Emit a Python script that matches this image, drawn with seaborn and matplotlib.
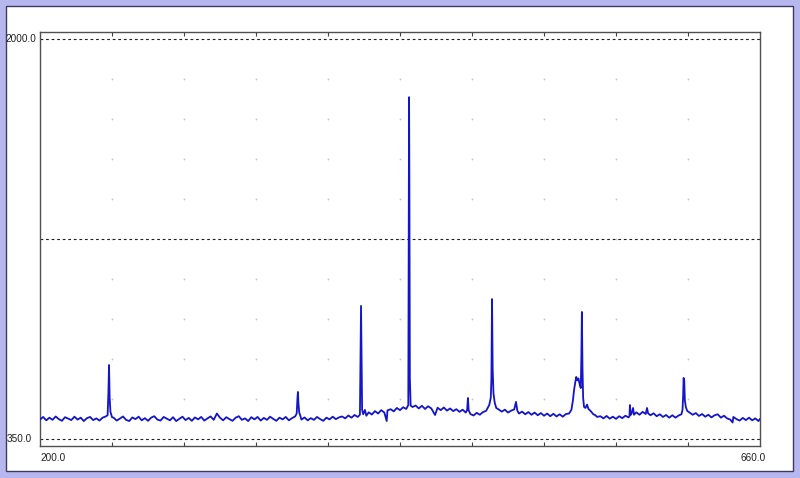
import numpy as np
import pandas as pd
import matplotlib
matplotlib.use("Agg")
import matplotlib.pyplot as plt
import seaborn as sns
from matplotlib.patches import Rectangle

# spectrum points (wavelength, intensity)
wavelength = [
    200, 202, 204, 206, 208, 210, 212, 214, 216, 218, 220, 222, 224, 226, 228, 230, 232, 234, 236, 238, 240, 242,
    243.2, 243.7, 244.1, 244.5, 245.0, 246,
    247, 249, 251, 253, 255, 257, 259, 261, 263, 265, 267, 269, 271, 273, 275, 277, 279, 281, 283, 285, 287, 289,
    291, 293, 295, 297, 299, 301, 303, 305, 307, 309, 311, 313, 315, 317, 319, 321, 323, 325, 327, 329, 331, 333,
    335, 337, 339, 341, 343, 345, 347, 349, 351, 353, 355, 357, 359, 361, 363,
    364.0, 364.5, 364.8, 365.1, 365.6, 366.5,
    367, 369, 371, 373, 375, 377, 379, 381, 383, 385, 387, 389, 391, 393, 395, 397, 399, 401, 403,
    404.4, 404.8, 405.1, 405.4, 405.8, 406.5,
    407.6, 408.5, 410, 412, 414, 416, 418, 420, 421.5, 422, 424, 426, 428, 430, 432, 434,
    435.3, 435.6, 435.8, 436.0, 436.3, 436.8,
    438, 440, 442, 444, 446, 448, 450, 452.4, 454, 456, 458, 460, 462, 464, 466, 468, 470, 472,
    472.9, 473.4, 473.9,
    475, 477, 479, 481, 483, 485, 487,
    488.0, 488.4, 488.8, 489.2, 489.7, 490.5, 491.5,
    493, 495, 497, 499, 501, 503, 504.1, 505, 506, 508, 510, 512, 514, 516, 518, 520, 522, 524, 526, 528, 530,
    532, 534, 536, 538, 539.5,
    540.5, 541.2, 542, 542.6, 543.3, 544, 544.8, 545.5, 545.9, 546.2, 546.6, 547.0, 547.6, 548.5, 549.5, 550.4,
    551.4, 552.5, 553.5, 554.6, 556, 558, 560, 562, 564, 566, 568, 570, 572, 574, 576,
    576.6, 576.9, 577.3, 578, 578.9, 579.5, 581, 583, 585, 587, 587.8, 588.5, 590, 592, 594, 596, 598, 600, 602,
    604, 606, 608, 609.8, 610.5,
    610.9, 611.2, 611.6, 612.0, 612.6, 613.5, 615, 617, 619, 621, 623, 625, 627, 629, 631, 633, 635, 637, 639,
    641, 642.5, 643, 645, 647, 649, 651, 653, 655, 657, 659, 660,
]
intensity = [
    430, 441, 427, 438, 429, 443, 432, 425, 440, 434, 428, 442, 430, 438, 424, 436, 441, 428, 435, 426, 438, 443,
    448, 540, 655, 520, 462, 440,
    438, 426, 434, 443, 429, 424, 439, 432, 442, 427, 436, 425, 438, 444, 430, 426, 441, 434, 427, 440, 424, 433,
    442, 428, 437, 425, 439, 431, 441, 426, 435, 443, 429, 455, 438, 427, 440, 432, 425, 438, 444, 429, 435, 424,
    440, 431, 441, 426, 437, 429, 442, 433, 425, 438, 431, 441, 427, 436, 443,
    455, 520, 544, 500, 460, 442,
    430, 439, 427, 436, 429, 441, 432, 425, 438, 431, 442, 432, 439, 443, 435, 447, 438, 449, 441,
    450, 700, 899, 720, 470, 452,
    470, 446, 460, 451, 465, 455, 469, 459, 424, 468, 473, 464, 478, 469, 481, 474,
    490, 1200, 1760, 1400, 600, 488,
    482, 488, 476, 487, 474, 485, 476, 449, 479, 469, 480, 467, 476, 465, 473, 462, 471, 459,
    470, 519, 468,
    453, 447, 458, 450, 461, 466, 490,
    520, 600, 927, 640, 540, 500, 478,
    472, 463, 471, 459, 467, 472, 503, 466, 455, 463, 452, 461, 450, 459, 448, 457, 446, 455, 444, 454, 443,
    452, 442, 453, 455, 470,
    510, 552, 585, 606, 592, 600, 575, 560, 700, 874, 640, 520, 482, 478, 492, 474,
    468, 460, 452, 449, 441, 444, 435, 445, 434, 442, 433, 444, 436, 446, 439,
    444, 490, 449, 456, 478, 450, 460, 450, 462, 453, 478, 456, 448, 456, 444, 452, 441, 449, 438,
    448, 438, 447, 452, 470,
    530, 602, 590, 510, 482, 466, 459, 450, 457, 445, 453, 442, 450, 439, 448, 452, 438, 446, 435,
    430, 418, 441, 432, 426, 437, 428, 438, 427, 435, 424, 433,
]

x_labels = ["200.0", "660.0"]
y_labels = ["2000.0", "350.0"]
x_min, x_max = 200, 660
y_min, y_max = 350, 2000

df = pd.DataFrame({"wavelength": wavelength, "intensity": intensity})

sns.set_style("white")
plt.rcParams["font.family"] = ["Liberation Sans", "DejaVu Sans"]

fig = plt.figure(figsize=(8, 4.78), dpi=100)
fig.patch.set_facecolor("#b7b7f0")

# white panel with its dark frame, kept behind the axes
panel = Rectangle((6 / 800, 7 / 478), 787 / 800, 465 / 478, transform=fig.transFigure,
                  facecolor="white", edgecolor="#3c3c5a", lw=1.0, zorder=-10)
fig.patches.append(panel)

ax = fig.add_axes([40 / 800, 32 / 478, 720 / 800, 414 / 478])
ax.set_facecolor("white")
ax.set_zorder(5)

pad = (y_max - y_min) * 7 / 400
ax.set_xlim(x_min, x_max)
ax.set_ylim(y_min - pad, y_max + pad)

# dotted grid: small marks at every tenth of each axis
gx = np.linspace(x_min, x_max, 11)[1:-1]
gy = np.linspace(y_min, y_max, 11)[1:-1]
GX, GY = np.meshgrid(gx, gy)
ax.scatter(GX.ravel(), GY.ravel(), marker="+", s=3, linewidths=0.5, color="#c4c4c4", zorder=1)

for yv in [y_min, (y_min + y_max) / 2, y_max]:
    ax.axhline(yv, color="#202020", lw=0.8, ls=(0, (2.5, 2.5)), zorder=1)

sns.lineplot(data=df, x="wavelength", y="intensity", ax=ax, color="#1414c8",
             lw=1.3, estimator=None, sort=False, zorder=3)

ax.set_xlabel("")
ax.set_ylabel("")
ax.set_xticks(gx)
ax.set_xticklabels([])
ax.set_yticks([])
ax.tick_params(axis="x", direction="in", length=3, width=0.8, color="#404040",
               top=True, bottom=True)
for s in ax.spines.values():
    s.set_color("#505050")
    s.set_linewidth(1.0)

txt = dict(fontsize=7.2, color="#202020")
ax.annotate(x_labels[0], xy=(x_min, 0), xycoords=("data", "axes fraction"),
            xytext=(0, -5), textcoords="offset points", ha="left", va="top", **txt)
ax.annotate(x_labels[1], xy=(x_max, 0), xycoords=("data", "axes fraction"),
            xytext=(4, -5), textcoords="offset points", ha="right", va="top", **txt)
ax.annotate(y_labels[0], xy=(0, y_max), xycoords=("axes fraction", "data"),
            xytext=(-3, 0), textcoords="offset points", ha="right", va="center", **txt)
ax.annotate(y_labels[1], xy=(0, y_min), xycoords=("axes fraction", "data"),
            xytext=(-6, 0), textcoords="offset points", ha="right", va="center", **txt)

fig.savefig("out.png", dpi=100, facecolor=fig.get_facecolor())
